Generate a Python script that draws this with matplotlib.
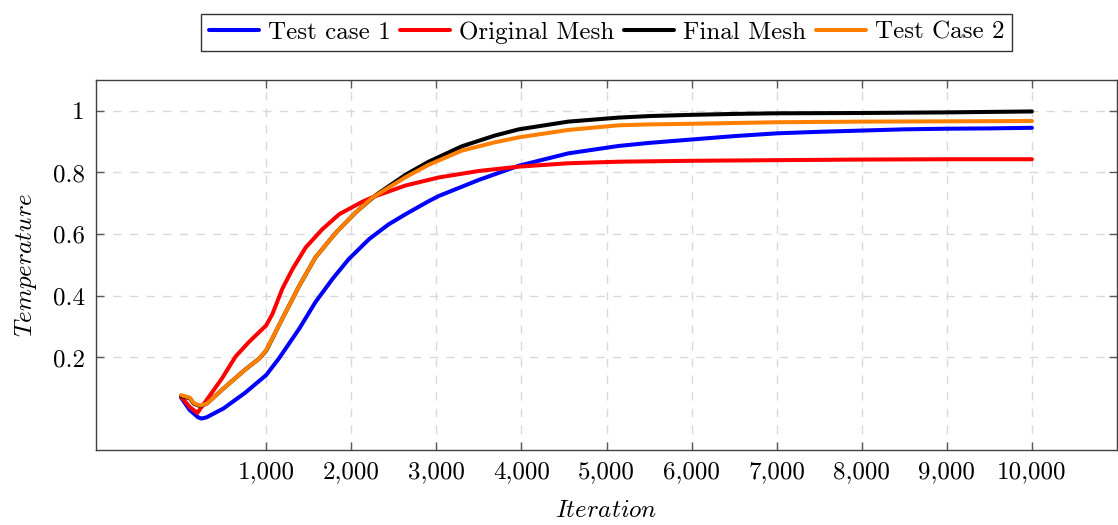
import matplotlib
matplotlib.use("Agg")
import matplotlib.pyplot as plt

plt.rcParams['font.family'] = ['cmr10', 'DejaVu Serif']
plt.rcParams['mathtext.fontset'] = 'cm'
plt.rcParams['axes.formatter.use_mathtext'] = True
plt.rcParams['font.size'] = 18

# Test case 1 (blue)
it_blue = [0, 100, 200, 240, 300, 500, 750, 1000, 1150, 1390, 1580, 1780, 1970, 2210,
           2440, 2640, 2910, 3030, 3500, 3970, 4550, 5140, 5500, 6000, 6500, 7000,
           7500, 8000, 8500, 9000, 9500, 10000]
t_blue = [0.07, 0.03, 0.006, 0.002, 0.006, 0.035, 0.085, 0.143, 0.197, 0.294, 0.38,
          0.455, 0.519, 0.584, 0.632, 0.665, 0.707, 0.724, 0.776, 0.822, 0.862, 0.886,
          0.896, 0.907, 0.918, 0.927, 0.932, 0.936, 0.94, 0.942, 0.943, 0.945]

# Original Mesh (red)
it_red = [0, 100, 190, 300, 480, 640, 800, 1000, 1075, 1190, 1310, 1465, 1660, 1860,
          2130, 2250, 2640, 2910, 3030, 3500, 3970, 4550, 5140, 6000, 7000, 8000,
          9000, 10000]
t_red = [0.073, 0.04, 0.02, 0.062, 0.132, 0.203, 0.251, 0.304, 0.342, 0.423, 0.487,
         0.557, 0.616, 0.665, 0.705, 0.72, 0.758, 0.776, 0.784, 0.805, 0.819, 0.83,
         0.835, 0.838, 0.84, 0.842, 0.843, 0.843]

# Final Mesh (black)
it_black = [0, 100, 150, 226, 300, 500, 750, 920, 1000, 1190, 1390, 1580, 1820, 2050,
            2290, 2640, 2910, 3300, 3690, 3970, 4550, 5140, 5500, 6000, 6500, 7000,
            8000, 9000, 10000]
t_black = [0.075, 0.068, 0.05, 0.042, 0.05, 0.1, 0.16, 0.197, 0.222, 0.326, 0.433,
           0.525, 0.605, 0.67, 0.727, 0.793, 0.835, 0.885, 0.92, 0.94, 0.965, 0.978,
           0.983, 0.987, 0.99, 0.992, 0.993, 0.995, 0.998]

# Test Case 2 (orange)
it_orange = [0, 100, 150, 226, 300, 500, 750, 920, 1000, 1190, 1390, 1580, 1820, 2050,
             2250, 2640, 2910, 3300, 3690, 3970, 4550, 5140, 5500, 6000, 7000, 8000,
             9000, 10000]
t_orange = [0.078, 0.07, 0.052, 0.044, 0.05, 0.1, 0.16, 0.197, 0.224, 0.326, 0.433,
            0.525, 0.605, 0.67, 0.719, 0.785, 0.825, 0.871, 0.898, 0.914, 0.938,
            0.953, 0.956, 0.958, 0.963, 0.965, 0.966, 0.967]

xticks = [1000, 2000, 3000, 4000, 5000, 6000, 7000, 8000, 9000, 10000]
xlabels = ['1,000', '2,000', '3,000', '4,000', '5,000', '6,000', '7,000', '8,000',
           '9,000', '10,000']
yticks = [0.2, 0.4, 0.6, 0.8, 1.0]
ylabels = ['0.2', '0.4', '0.6', '0.8', '1']

fig = plt.figure(figsize=(11.18, 5.25), dpi=100)
ax = fig.add_axes([96 / 1118, 1 - 450 / 525, 1021 / 1118, 370 / 525])

lw = 2.9
style = dict(lw=lw, solid_joinstyle='round', solid_capstyle='round')
ax.plot(it_blue, t_blue, color='#0000ff', label='Test case 1', **style)
ax.plot(it_red, t_red, color='#ff0000', label='Original Mesh', **style)
ax.plot(it_black, t_black, color='black', label='Final Mesh', **style)
ax.plot(it_orange, t_orange, color='#ff8000', label='Test Case 2', **style)

ax.set_xlim(-1000, 11000)
ax.set_ylim(-0.1, 1.1)
ax.set_xticks(xticks)
ax.set_xticklabels(xlabels)
ax.set_yticks(yticks)
ax.set_yticklabels(ylabels)
ax.tick_params(direction='in', length=6, width=1, color='0.35',
               top=True, right=True, pad=8)
ax.grid(True, color='0.85', linestyle=(0, (6, 6)), linewidth=1)
for s in ax.spines.values():
    s.set_color('0.25')
    s.set_linewidth(1)

ax.set_xlabel(r'$Iteration$', labelpad=12)
ax.set_ylabel(r'$Temperature$', labelpad=10)

leg = ax.legend(loc='lower center', bbox_to_anchor=(0.5, 1.078), ncol=4,
                frameon=True, fancybox=False, edgecolor='black', borderaxespad=0,
                handlelength=2.0, handletextpad=0.35, columnspacing=0.4,
                borderpad=0.3)
leg.get_frame().set_linewidth(1)

fig.savefig('out.png', dpi=100)
